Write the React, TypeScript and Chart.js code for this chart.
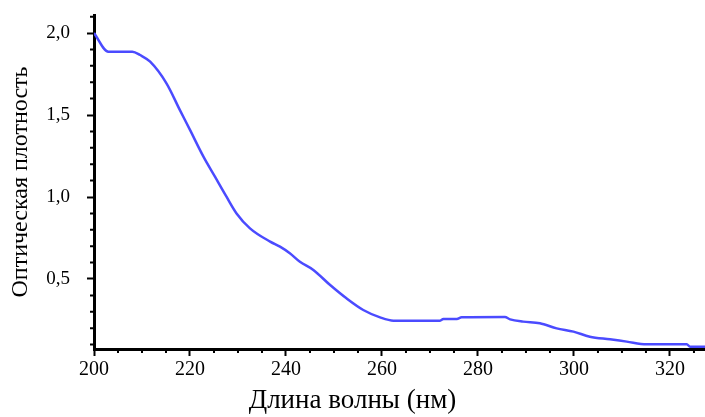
import React, { useEffect, useRef } from "react";
import { Chart, registerables } from "chart.js";

Chart.register(...registerables);

const wavelengths = [
  200, 203, 208, 209.6, 211.7, 215.1, 217.9, 220, 222.8, 225.2, 227.6, 229.7,
  232.5, 236.7, 238.75, 240.8, 242.9, 245.7, 249.2, 252.6, 256.1, 259.6, 262.4,
  272.1, 272.8, 275.6, 276.6, 285.6, 286.7, 289.4, 292.9, 296.4, 299.9, 303.3,
  307.5, 311.0, 315.1, 323.5, 324.2, 327.3,
];
const absorbance = [
  2.0, 1.886, 1.886, 1.866, 1.825, 1.693, 1.53, 1.409, 1.246, 1.124, 1.002, 0.9,
  0.809, 0.728, 0.697, 0.657, 0.605, 0.555, 0.463, 0.382, 0.311, 0.266, 0.246,
  0.246, 0.256, 0.256, 0.266, 0.268, 0.254, 0.24, 0.23, 0.199, 0.179, 0.148,
  0.132, 0.118, 0.102, 0.102, 0.087, 0.087,
];
const xTitle = "Длина волны (нм)";
const yTitle = "Оптическая плотность";
const xMin = 200;
const xMax = 327.3;
const yMin = 0.073;
const yMax = 2.11;
const xMajorStep = 20;
const xMinorStep = 5;
const yMajorStep = 0.5;
const yMinorStep = 0.1;

const SERIF = "'Liberation Serif', 'Times New Roman', serif";

const minorTicks = {
  id: "minorTicks",
  afterDraw(chart: any) {
    const ctx = chart.ctx;
    const xs = chart.scales.x;
    const ys = chart.scales.y;
    const area = chart.chartArea;
    ctx.save();
    ctx.strokeStyle = "#000";
    ctx.lineWidth = 2;
    ctx.beginPath();
    for (let v = Math.ceil(xMin / xMinorStep) * xMinorStep; v <= xMax + 1e-9; v += xMinorStep) {
      if (Math.abs(v / xMajorStep - Math.round(v / xMajorStep)) < 1e-6) continue;
      const px = xs.getPixelForValue(v);
      ctx.moveTo(px, area.bottom);
      ctx.lineTo(px, area.bottom + 4);
    }
    for (let i = Math.ceil(yMin / yMinorStep); i * yMinorStep <= yMax + 1e-9; i++) {
      const v = i * yMinorStep;
      if (Math.abs(v / yMajorStep - Math.round(v / yMajorStep)) < 1e-6) continue;
      const py = ys.getPixelForValue(v);
      ctx.moveTo(area.left - 4, py);
      ctx.lineTo(area.left, py);
    }
    ctx.stroke();
    ctx.restore();
  },
};

export default function App() {
  const ref = useRef<HTMLCanvasElement>(null);
  useEffect(() => {
    document.body.style.margin = "0";
    const chart = new Chart(ref.current!, {
      type: "line",
      data: {
        datasets: [
          {
            data: wavelengths.map((w, i) => ({ x: w, y: absorbance[i] })),
            borderColor: "rgb(75,75,255)",
            borderWidth: 2.5,
            pointRadius: 0,
            cubicInterpolationMode: "monotone",
            fill: false,
          },
        ],
      },
      options: {
        animation: false,
        responsive: true,
        maintainAspectRatio: false,
        layout: { padding: { top: 15, right: 0, left: 0, bottom: 0 } },
        plugins: {
          legend: { display: false },
          tooltip: { enabled: false },
          title: {
            display: true,
            position: "bottom",
            text: xTitle,
            color: "#000",
            font: { family: SERIF, size: 27, weight: "normal" },
            padding: { top: 0, bottom: 0 },
          },
        },
        scales: {
          x: {
            type: "linear",
            min: xMin,
            max: xMax,
            afterFit: (s: any) => {
              s.height = 35.6;
              s.paddingRight = 0;
            },
            border: { display: true, color: "#000", width: 3 },
            grid: {
              display: true,
              drawOnChartArea: false,
              drawTicks: true,
              tickLength: 7,
              tickWidth: 2,
              tickColor: "#000",
            },
            ticks: {
              stepSize: xMajorStep,
              includeBounds: false,
              autoSkip: false,
              maxRotation: 0,
              padding: 2,
              color: "#000",
              font: { family: SERIF, size: 20 },
              callback: (v: any) => String(v),
            },
          },
          y: {
            type: "linear",
            min: yMin,
            max: yMax,
            afterFit: (s: any) => {
              s.width = 94;
              s.paddingTop = 0;
              s.paddingBottom = 0;
            },
            border: { display: true, color: "#000", width: 3 },
            grid: {
              display: true,
              drawOnChartArea: false,
              drawTicks: true,
              tickLength: 7,
              tickWidth: 2,
              tickColor: "#000",
            },
            ticks: {
              stepSize: yMajorStep,
              includeBounds: false,
              autoSkip: false,
              padding: 17,
              color: "#000",
              font: { family: SERIF, size: 19 },
              callback: (v: any) => Number(v).toFixed(1).replace(".", ","),
            },
            title: {
              display: true,
              text: yTitle,
              color: "#000",
              font: { family: SERIF, size: 24, weight: "normal" },
              padding: { top: 6, bottom: 0 },
            },
          },
        },
      },
      plugins: [minorTicks],
    });
    return () => chart.destroy();
  }, []);
  return (
    <div style={{ position: "relative", width: 705, height: 417 }}>
      <canvas ref={ref} />
    </div>
  );
}
